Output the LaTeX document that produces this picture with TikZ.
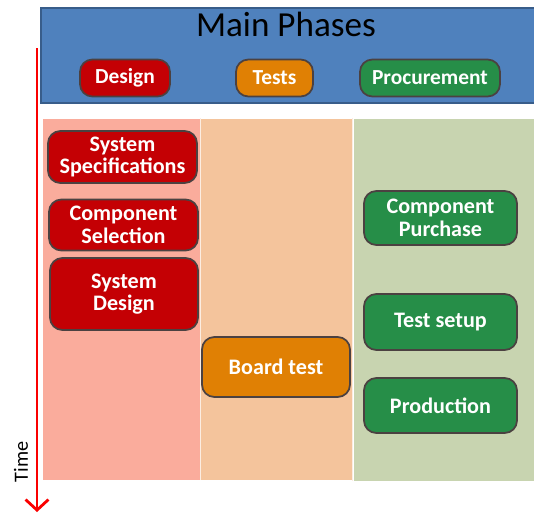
\documentclass[tikz,border=0pt]{standalone}
\usepackage{fontspec}
\setmainfont{Carlito}
\usepackage{tikz}
\usetikzlibrary{arrows.meta, positioning}
\definecolor{hdrblue}{RGB}{79,129,189}
\definecolor{hdrframe}{RGB}{56,93,138}
\definecolor{colred}{RGB}{250,172,156}
\definecolor{coltan}{RGB}{244,196,156}
\definecolor{colgreen}{RGB}{200,212,176}
\definecolor{btnred}{RGB}{196,0,4}
\definecolor{btnorange}{RGB}{224,128,4}
\definecolor{btngreen}{RGB}{38,142,72}
\definecolor{btnframe}{RGB}{75,65,65}
\definecolor{timered}{RGB}{250,0,0}
\tikzset{
  phase/.style={rectangle, draw=btnframe, rounded corners=7pt,
    line width=1pt, align=center, text=white,
    font=\fontsize{12.6}{12.8}\selectfont\bfseries, inner sep=1pt},
  redphase/.style={phase, fill=btnred},
  orangephase/.style={phase, fill=btnorange},
  greenphase/.style={phase, fill=btngreen},
  tag/.style={phase, minimum height=0.74cm, font=\fontsize{12.2}{14}\selectfont\bfseries},
  lane/.style={draw=white, line width=0.4pt}
}
\begin{document}
\begin{tikzpicture}[x=0.02cm, y=-0.02cm]
  \useasboundingbox (0,0) rectangle (534,515);

  % Header band
  \draw[fill=hdrblue, draw=hdrframe, line width=0.8pt] (41,8) rectangle (536,103);
  \node[font=\fontsize{20}{23}\selectfont] (title) at (286,24) {Main Phases};
  \node[tag, fill=btnred, minimum width=1.8cm] (design) at (125,78) {Design};
  \node[tag, fill=btnorange, minimum width=1.54cm] (tests) at (274.5,78) {Tests};
  \node[tag, fill=btngreen, minimum width=2.8cm] (procurement) at (430,78) {Procurement};

  % Lanes
  \fill[lane, fill=colred] (42,118) rectangle (200,480);
  \fill[lane, fill=coltan] (200,118) rectangle (352,480);
  \fill[lane, fill=colgreen] (353,118) rectangle (536,481);
  \draw[white!70!coltan, line width=0.5pt] (200.5,118) -- (200.5,480) (352.5,118) -- (352.5,481);

  % Design lane
  \node[redphase, minimum width=2.98cm, minimum height=1.04cm] (spec) at (122.5,157) {System\\Specifications};
  \node[redphase, minimum width=2.98cm, minimum height=1.02cm] (select) at (123.5,225) {Component\\Selection};
  \node[redphase, minimum width=2.96cm, minimum height=1.44cm] (sysdesign) at (124,294) {System\\Design};

  % Tests lane
  \node[orangephase, minimum width=2.96cm, minimum height=1.2cm] (board) at (276,367) {Board test};

  % Procurement lane
  \node[greenphase, minimum width=3.06cm, minimum height=1.08cm] (purchase) at (440.5,218) {Component\\Purchase};
  \node[greenphase, minimum width=3.06cm, minimum height=1.12cm] (setup) at (440.5,322) {Test setup};
  \node[greenphase, minimum width=3.06cm, minimum height=1.1cm] (production) at (440.5,405.5) {Production};

  % Time axis
  \coordinate (tstart) at (37,48);
  \coordinate (tend) at (37,512);
  \draw[timered, line width=1.6pt, -{Straight Barb[length=6pt, width=13pt, line width=1.6pt]}] (tstart) -- (tend);
  \node[rotate=90, font=\fontsize{11.5}{13}\selectfont] (time) at (21,462) {Time};
\end{tikzpicture}
\end{document}
